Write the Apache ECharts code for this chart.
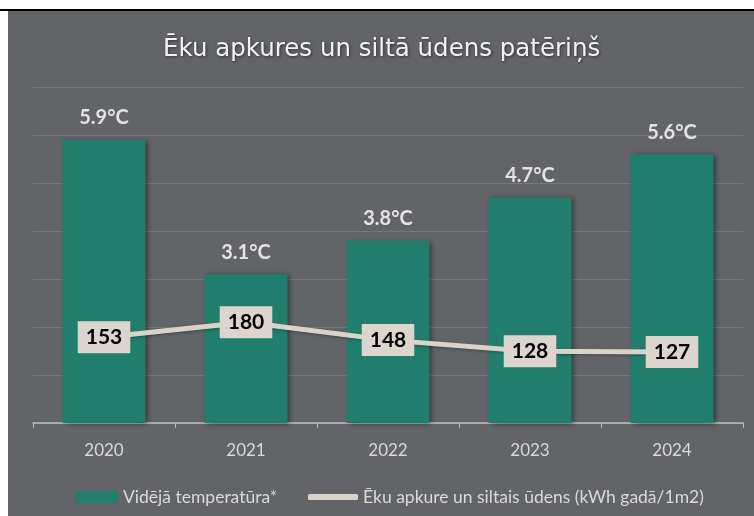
<!DOCTYPE html>
<html><head><meta charset="utf-8">
<script src="https://cdn.jsdelivr.net/npm/echarts@6/dist/echarts.min.js"></script>
<style>html,body{margin:0;padding:0;background:#fff}#c{width:754px;height:516px}</style>
</head><body><div id="c"></div>
<script>
const years = ['2020','2021','2022','2023','2024'];
const temperature = [5.9, 3.1, 3.8, 4.7, 5.6];
const consumption = [153, 180, 148, 128, 127];
const titleText = 'Ēku apkures un siltā ūdens patēriņš';
const barName = 'Vidējā temperatūra*';
const lineName = 'Ēku apkure un siltais ūdens (kWh gadā/1m2)';

const chart = echarts.init(document.getElementById('c'), null, {renderer:'canvas'});
const FONT = 'Lato';
chart.setOption({
  backgroundColor: '#ffffff',
  animation: false,
  graphic: [
    {type:'rect', z:-10, shape:{x:8, y:11, width:746, height:505}, style:{fill:'#636468'}},
    {type:'rect', z:-9, shape:{x:0, y:9, width:754, height:2}, style:{fill:'#000'}}
  ],
  title: {
    text: titleText, left: 158, top: 32,
    textStyle: {color:'#f2f2f2', fontSize:24.5, fontWeight:'normal', fontFamily:'DejaVu Sans',
      textShadowColor:'rgba(0,0,0,0.5)', textShadowBlur:3, textShadowOffsetX:1, textShadowOffsetY:1}
  },
  grid: {left:33, right:11, top:87, bottom:93},
  legend: [
    {
      left: 70, top: 483, itemTextGap: 4, itemWidth: 43, itemHeight: 12,
      textStyle: {color:'#d9d9d9', fontSize:17.5, fontFamily:FONT},
      data: [{name: barName, icon: 'rect'}]
    },
    {
      left: 303, top: 483, itemTextGap: 1, itemWidth: 50, itemHeight: 6,
      textStyle: {color:'#d9d9d9', fontSize:17.5, fontFamily:FONT},
      data: [{name: lineName, icon: 'roundRect', itemStyle:{color:'#d9d3cc', borderWidth:0}}]
    }
  ],
  xAxis: {
    type:'category', data: years,
    axisLine:{lineStyle:{color:'#bfbfbf', width:1.5}},
    axisTick:{show:true, length:5, lineStyle:{color:'#bfbfbf'}},
    axisLabel:{color:'#d9d9d9', fontSize:17, fontFamily:FONT, margin:19}
  },
  yAxis: [
    {type:'value', min:0, max:7, interval:1, axisLabel:{show:false}, axisLine:{show:false}, axisTick:{show:false},
     splitLine:{lineStyle:{color:'#77787c', width:1}}},
    {type:'value', min:0, max:600, axisLabel:{show:false}, axisLine:{show:false}, axisTick:{show:false},
     splitLine:{show:false}}
  ],
  series: [
    {
      name: barName, type:'bar', data: temperature, barWidth: 83, yAxisIndex:0,
      itemStyle:{color:'#217e6c', shadowColor:'rgba(0,0,0,0.45)', shadowBlur:5, shadowOffsetX:2, shadowOffsetY:1},
      label:{show:true, position:'top', distance:12, color:'#e3e3e3', fontSize:20, fontWeight:'bold', fontFamily:FONT,
        formatter: p => p.value + '°C'}
    },
    {
      name: lineName, type:'line', data: consumption, yAxisIndex:1,
      symbol:'circle', symbolSize:1, itemStyle:{color:'#d9d3cc'},
      lineStyle:{color:'#d9d3cc', width:5, shadowColor:'rgba(0,0,0,0.35)', shadowBlur:3, shadowOffsetY:1},
      label:{show:true, position:'inside', color:'#000', fontSize:21, fontWeight:'bold', fontFamily:FONT,
        backgroundColor:'#dbd5ce', padding:[6,8,5,8]},
      z: 5
    }
  ]
});
</script></body></html>
